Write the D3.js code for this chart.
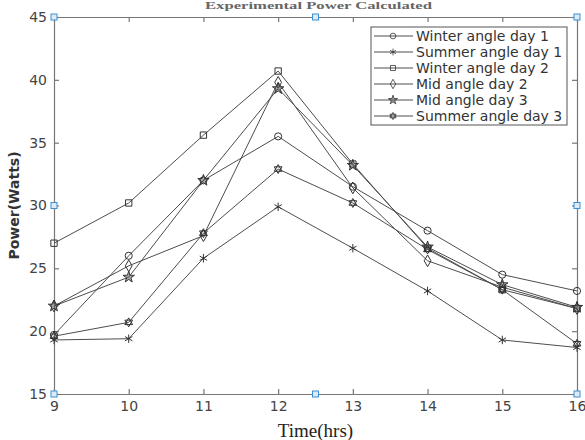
<!DOCTYPE html>
<html>
<head>
<meta charset="utf-8">
<script src="https://cdn.jsdelivr.net/npm/d3@7"></script>
<style>
  body { margin: 0; background: #fff; }
  svg { display: block; }
</style>
</head>
<body>
<svg id="chart" width="585" height="440"></svg>
<script>
// data
const hours = [9, 10, 11, 12, 13, 14, 15, 16];
const winterDay1 = [19.7, 26.0, 32.0, 35.5, 31.5, 28.0, 24.5, 23.2];
const summerDay1 = [19.3, 19.4, 25.8, 29.9, 26.6, 23.2, 19.3, 18.7];
const winterDay2 = [27.0, 30.2, 35.6, 40.7, 33.3, 26.6, 23.3, 21.8];
const midDay2 = [22.0, 25.2, 27.6, 39.8, 31.4, 25.6, 23.5, 21.8];
const midDay3 = [22.0, 24.3, 32.0, 39.3, 33.2, 26.7, 23.7, 21.9];
const summerDay3 = [19.6, 20.7, 27.8, 32.9, 30.2, 26.5, 23.3, 19.0];
const seriesNames = ["Winter angle day 1", "Summer angle day 1", "Winter angle day 2",
  "Mid angle day 2", "Mid angle day 3", "Summer angle day 3"];
const yTicks = [15, 20, 25, 30, 35, 40, 45];
const handleX = [9, 12.5, 16];
const handleY = [15, 30, 45];

const series = [winterDay1, summerDay1, winterDay2, midDay2, midDay3, summerDay3];
const markers = ["circle", "asterisk", "square", "diamond", "star", "hexagram"];

const svg = d3.select("#chart");
const margin = { top: 17, right: 8, bottom: 46, left: 54 };
const width = 585 - margin.left - margin.right;
const height = 440 - margin.top - margin.bottom;
const g = svg.append("g").attr("transform", `translate(${margin.left},${margin.top})`);

const x = d3.scaleLinear().domain([9, 16]).range([0, width]);
const y = d3.scaleLinear().domain([15, 45]).range([height, 0]);

const axisColor = "#777";
const labelFont = "DejaVu Sans, sans-serif";

// axes, ticks pointing inward
g.append("g").attr("class", "x-axis")
  .attr("transform", `translate(0,${height})`)
  .call(d3.axisBottom(x).tickValues(hours).tickFormat(d3.format("d")).tickSize(-5).tickSizeOuter(0).tickPadding(7));
g.append("g").attr("class", "x-top")
  .call(d3.axisTop(x).tickValues(hours).tickFormat("").tickSize(-5).tickSizeOuter(0));
g.append("g").attr("class", "y-axis")
  .call(d3.axisLeft(y).tickValues(yTicks).tickSize(-5).tickSizeOuter(0).tickPadding(7));
g.append("g").attr("class", "y-right")
  .attr("transform", `translate(${width},0)`)
  .call(d3.axisRight(y).tickValues(yTicks).tickFormat("").tickSize(-5).tickSizeOuter(0));

g.selectAll(".domain, .tick line").attr("stroke", axisColor).attr("stroke-width", 1.2);
g.selectAll(".tick text")
  .attr("fill", "#444")
  .attr("font-size", "14px")
  .attr("font-family", labelFont);

// axis labels
svg.append("text")
  .attr("x", margin.left + width / 2)
  .attr("y", 437)
  .attr("text-anchor", "middle")
  .attr("font-family", "Liberation Serif, Times New Roman, serif")
  .attr("font-size", "19px")
  .attr("fill", "#222")
  .text("Time(hrs)");

svg.append("text")
  .attr("transform", `translate(19,${margin.top + height / 2}) rotate(-90)`)
  .attr("text-anchor", "middle")
  .attr("font-family", labelFont)
  .attr("font-size", "14px")
  .attr("font-weight", "bold")
  .attr("fill", "#333")
  .text("Power(Watts)");

// title squeezed into the thin strip above the box
svg.append("text")
  .attr("x", 205)
  .attr("y", 9)
  .attr("textLength", 227)
  .attr("lengthAdjust", "spacingAndGlyphs")
  .attr("font-family", "Liberation Serif, serif")
  .attr("font-size", "10px")
  .attr("font-weight", "bold")
  .attr("fill", "#666")
  .text("Experimental Power Calculated");

// marker drawing
function drawMarker(sel, type) {
  const stroke = "#333";
  if (type === "hexagram") {
    [0, 180].forEach((rot) => {
      sel.append("path")
        .attr("d", d3.symbol(d3.symbolTriangle, 26)())
        .attr("transform", `rotate(${rot})`)
        .attr("fill", "none").attr("stroke", stroke).attr("stroke-width", 1);
    });
    return;
  }
  const sym = {
    circle: [d3.symbolCircle, 40],
    asterisk: [d3.symbolAsterisk, 50],
    square: [d3.symbolSquare, 40],
    diamond: [d3.symbolDiamond, 40],
    star: [d3.symbolStar, 40],
  }[type];
  sel.append("path")
    .attr("d", d3.symbol(sym[0], sym[1])())
    .attr("fill", type === "star" ? "#555" : "none")
    .attr("fill-opacity", type === "star" ? 0.5 : 1)
    .attr("stroke", stroke).attr("stroke-width", 1);
}

const line = d3.line().x((d, i) => x(hours[i])).y((d) => y(d));

series.forEach((vals, s) => {
  g.append("path")
    .datum(vals)
    .attr("fill", "none")
    .attr("stroke", "#4d4d4d")
    .attr("stroke-width", 1)
    .attr("d", line);
  vals.forEach((v, i) => {
    const m = g.append("g").attr("transform", `translate(${x(hours[i])},${y(v)})`);
    drawMarker(m, markers[s]);
  });
});

// legend
const lg = svg.append("g").attr("transform", "translate(371,27)");
lg.append("rect")
  .attr("width", 196).attr("height", 98)
  .attr("fill", "#fff").attr("stroke", "#555").attr("stroke-width", 1);
seriesNames.forEach((name, i) => {
  const row = lg.append("g").attr("transform", `translate(0,${9 + i * 16})`);
  row.append("line").attr("x1", 3).attr("x2", 42).attr("stroke", "#4d4d4d").attr("stroke-width", 1);
  drawMarker(row.append("g").attr("transform", "translate(22,0) scale(0.8)"), markers[i]);
  row.append("text")
    .attr("x", 45).attr("y", 5)
    .attr("font-family", labelFont)
    .attr("font-size", "14px")
    .attr("fill", "#333")
    .text(name);
});

// data cursor handles on the box edges
handleX.forEach((hx) => {
  handleY.forEach((hy) => {
    if (hx === 12.5 && hy === 30) return;
    g.append("rect")
      .attr("x", x(hx) - 3).attr("y", y(hy) - 3)
      .attr("width", 6).attr("height", 6)
      .attr("fill", "#dcebf7").attr("stroke", "#3d8fd1").attr("stroke-width", 1);
  });
});
</script>
</body>
</html>
